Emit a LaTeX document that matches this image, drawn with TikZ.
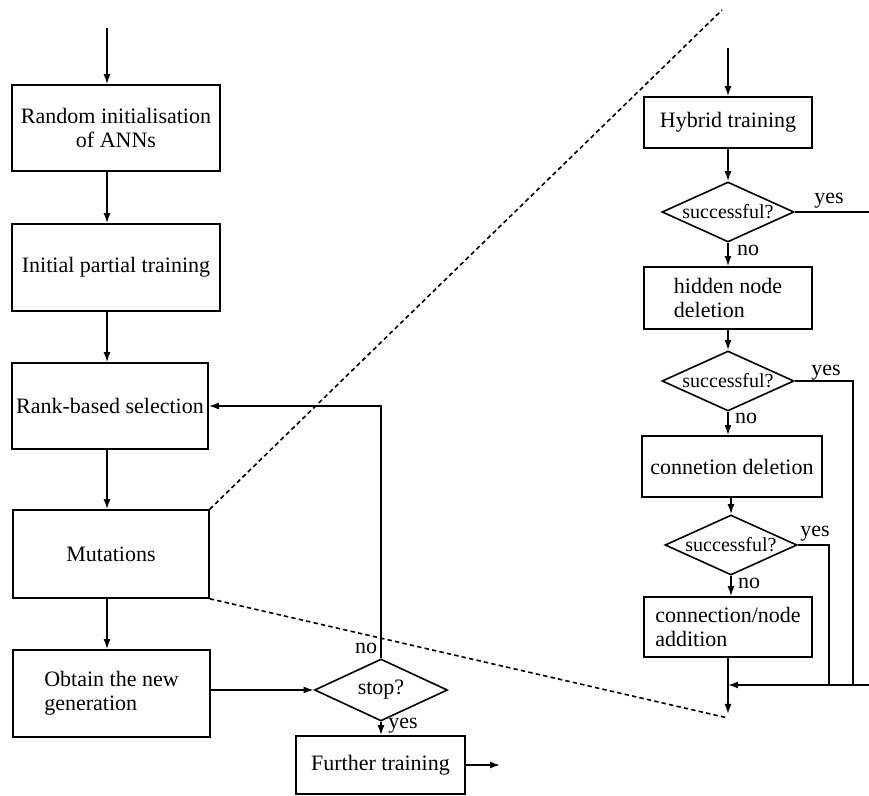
\documentclass[tikz,border=0pt]{standalone}
\usepackage{fontspec}
\setmainfont{Liberation Serif}
\usetikzlibrary{shapes.geometric,arrows.meta}
\tikzset{every picture/.append style={x=0.5pt,y=-0.5pt}}
\tikzset{
    box/.style={rectangle, draw, line width=0.8pt, inner sep=2pt,
    	font=\fontsize{11}{12}\selectfont},
    test/.style={diamond, draw, line width=0.8pt, inner sep=0pt, aspect=2.2,
    	minimum width=66pt, minimum height=30pt, font=\fontsize{10}{12}\selectfont},
    tag/.style={inner sep=0pt, font=\fontsize{11}{12}\selectfont},
    link/.style={line width=0.8pt},
    flow/.style={link, -{Latex[length=5pt,width=3.5pt]}},
    zoomline/.style={link, dash pattern=on 2.2pt off 1.6pt}
}

\begin{document}
\begin{tikzpicture}
	\useasboundingbox (0,0) rectangle (869,796);
	\clip (0,0) rectangle (869,796);
	\coordinate (colL) at (107,0);
	\coordinate (inL) at (107,28);
	\coordinate (outL) at (500,765);
	\coordinate (inR) at (728,48);
	\coordinate (outR) at (728,714);
	\coordinate (rEdge) at (880,685);
	\coordinate (j2) at (853,685);
	\coordinate (j3) at (829,685);
	\coordinate (zTop) at (722,10);
	\coordinate (zBot) at (728,718);

	\node (init) [box, minimum width=104pt, minimum height=43pt, align=center] at (116,128) {Random initialisation\\of ANNs};
	\node (part) [box, minimum width=104pt, minimum height=43.5pt] at (116,267.5) {Initial partial training};
	\node (sel) [box, minimum width=98pt, minimum height=43pt] at (110,406) {Rank-based selection};
	\node (mut) [box, minimum width=98pt, minimum height=44pt] at (111,554) {Mutations};
	\node (gen) [box, minimum width=98.5pt, minimum height=43.5pt, align=left] at (111.5,693.5) {Obtain the new\\generation};
	\node (stop) [test, minimum width=66.5pt, minimum height=31pt, font=\fontsize{11}{12}\selectfont] at (381,690) {stop?};
	\node (fur) [box, minimum width=84.5pt, minimum height=29pt] at (380.5,765) {Further training};

	\node (hyb) [box, minimum width=84pt, minimum height=25.5pt] at (728,122.5) {Hybrid training};
	\node (d1) [test] at (728,212) {successful?};
	\node (hid) [box, minimum width=84pt, minimum height=31pt, align=left] at (728,298) {hidden node\\deletion};
	\node (d2) [test] at (728,381) {successful?};
	\node (con) [box, minimum width=90pt, minimum height=30.5pt] at (732,466.5) {connetion deletion};
	\node (d3) [test] at (731,545) {successful?};
	\node (add) [box, minimum width=84pt, minimum height=30pt, align=left] at (728,627) {connection/node\\addition};

	\node (no0) [tag] at (366,648) {no};
	\node (yes0) [tag] at (403,726) {yes};
	\node (yes1) [tag] at (829,201) {yes};
	\node (no1) [tag] at (748,250) {no};
	\node (yes2) [tag] at (826,373) {yes};
	\node (no2) [tag] at (746,418) {no};
	\node (yes3) [tag] at (815,534) {yes};
	\node (no3) [tag] at (749,583) {no};

	\draw[flow] (inL) -- (init.north -| inL);
	\draw[flow] (init.south -| colL) -- (part.north -| colL);
	\draw[flow] (part.south -| colL) -- (sel.north -| colL);
	\draw[flow] (sel.south -| colL) -- (mut.north -| colL);
	\draw[flow] (mut.south -| colL) -- (gen.north -| colL);
	\draw[flow] (gen.east |- stop) -- (stop.west);
	\draw[flow] (stop.north) |- (sel.east);
	\draw[flow] (stop.south) -- (fur.north -| stop.south);
	\draw[flow] (fur.east) -- (outL);

	\draw[zoomline] (mut.north east) -- (zTop);
	\draw[zoomline] (mut.south east) -- (zBot);

	\draw[flow] (inR) -- (hyb);
	\draw[flow] (hyb) -- (d1);
	\draw[flow] (d1) -- (hid);
	\draw[flow] (hid) -- (d2);
	\draw[flow] (d2.south) -- (con.north -| d2.south);
	\draw[flow] (con.south -| d3) -- (d3.north);
	\draw[flow] (d3.south) -- (add.north -| d3.south);
	\draw[flow] (add) -- (outR);
	\draw[flow] (d1.east) -| (rEdge) -- (add.south |- rEdge);
	\draw[link] (d2.east) -| (j2);
	\draw[link] (d3.east) -| (j3);
\end{tikzpicture}
\end{document}
